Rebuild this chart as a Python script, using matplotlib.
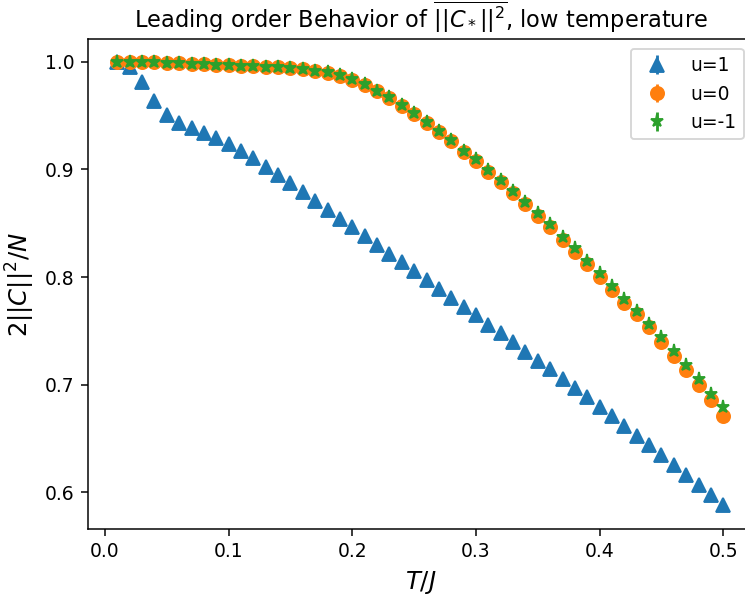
import numpy as np
import matplotlib
matplotlib.use("Agg")
import matplotlib.pyplot as plt

# temperature grid T/J
T = np.linspace(0.01, 0.50, 50)

# 2||C||^2/N
u1 = [1.000, 0.9954, 0.9809, 0.9635, 0.9505, 0.9431, 0.9382, 0.9338, 0.9292, 0.9236,
      0.9171, 0.9103, 0.9026, 0.8948, 0.8871, 0.8788, 0.8704, 0.8624, 0.8543, 0.8463,
      0.8382, 0.8299, 0.8215, 0.8135, 0.8055, 0.7974, 0.7893, 0.7807, 0.7726, 0.7643,
      0.7559, 0.7477, 0.7392, 0.7308, 0.7224, 0.7142, 0.7055, 0.6970, 0.6884, 0.6796,
      0.6706, 0.6613, 0.6527, 0.6436, 0.6344, 0.6255, 0.6162, 0.6069, 0.5976, 0.5883]

u0 = [1.000, 1.000, 1.000, 0.9994, 0.9991, 0.9985, 0.9979, 0.9979, 0.9972, 0.9967,
      0.9963, 0.9960, 0.9954, 0.9951, 0.9942, 0.9935, 0.9916, 0.9898, 0.9870, 0.9834,
      0.9786, 0.9727, 0.9664, 0.9591, 0.9513, 0.9433, 0.9349, 0.9259, 0.9161, 0.9078,
      0.8978, 0.8883, 0.8782, 0.8675, 0.8568, 0.8467, 0.8347, 0.8237, 0.8117, 0.8004,
      0.7884, 0.7762, 0.7658, 0.7535, 0.7401, 0.7262, 0.7132, 0.7000, 0.6860, 0.6712]

um1 = [1.000, 1.000, 1.000, 0.9994, 0.9991, 0.9985, 0.9979, 0.9979, 0.9972, 0.9967,
       0.9963, 0.9960, 0.9954, 0.9951, 0.9942, 0.9935, 0.9916, 0.9900, 0.9872, 0.9837,
       0.9790, 0.9731, 0.9670, 0.9598, 0.9521, 0.9443, 0.9360, 0.9271, 0.9175, 0.9094,
       0.8995, 0.8902, 0.8803, 0.8698, 0.8593, 0.8494, 0.8376, 0.8268, 0.8150, 0.8039,
       0.7920, 0.7795, 0.7680, 0.7566, 0.7442, 0.7309, 0.7179, 0.7053, 0.6916, 0.6793]

# small statistical errors (mostly hidden under the markers)
err_u1 = 0.004
err_u0 = 0.002
err_um1 = 0.002

labels = ["u=1", "u=0", "u=-1"]

dpi = 135
fig = plt.figure(figsize=(745 / dpi, 599 / dpi), dpi=dpi)
# the original figure was cut on the right, so the axes run past the edge
ax = fig.add_axes([0.1177, 0.1169, 0.8938, 0.8175])

ax.errorbar(T, u1, yerr=err_u1, fmt="^", color="C0", markersize=7, label=labels[0])
ax.errorbar(T, u0, yerr=err_u0, fmt="o", color="C1", markersize=7, label=labels[1])
ax.errorbar(T, um1, yerr=err_um1, fmt="*", color="C2", markersize=7, label=labels[2])

ax.set_xlim(-0.014, 0.5245)
ax.set_ylim(0.566, 1.0208)
ax.set_xticks([0.0, 0.1, 0.2, 0.3, 0.4, 0.5])
ax.set_yticks([0.6, 0.7, 0.8, 0.9, 1.0])
ax.spines["right"].set_visible(False)

ax.set_title(r"Leading order Behavior of $\overline{||C_*||^2}$, low temperature", fontsize=12)
ax.set_xlabel(r"$T/J$", fontsize=13)
ax.set_ylabel(r"$2||C||^2/N$", fontsize=13)
ax.legend(loc="upper right")

fig.savefig("out.png", dpi=dpi)
